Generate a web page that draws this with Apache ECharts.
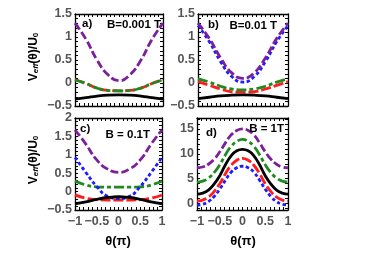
<!DOCTYPE html>
<html><head><meta charset="utf-8">
<script src="https://cdn.jsdelivr.net/npm/echarts@6/dist/echarts.min.js"></script>
<style>html,body{margin:0;padding:0;background:#fff}#c{width:388px;height:260px}</style>
</head><body><div id="c"></div>
<script>
// ---- data ----
const theta9 = [-1, -0.75, -0.5, -0.25, 0, 0.25, 0.5, 0.75, 1];
const theta17 = [-1, -0.875, -0.75, -0.625, -0.5, -0.375, -0.25, -0.125, 0, 0.125, 0.25, 0.375, 0.5, 0.625, 0.75, 0.875, 1];

// panel a) B=0.001 T
const aPurple = [1.30, 0.95, 0.50, 0.18, 0.05, 0.18, 0.50, 0.95, 1.30];
const aGreen  = [0.07, -0.01, -0.11, -0.16, -0.17, -0.16, -0.11, -0.01, 0.07];
const aRed    = [0.07, -0.01, -0.11, -0.16, -0.17, -0.16, -0.11, -0.01, 0.07];
const aBlack  = [-0.35, -0.32, -0.285, -0.265, -0.26, -0.265, -0.285, -0.32, -0.35];

// panel b) B=0.01 T
const bPurple = [1.30, 0.97, 0.55, 0.22, 0.10, 0.22, 0.55, 0.97, 1.30];
const bBlue   = [1.25, 0.90, 0.47, 0.14, 0.02, 0.14, 0.47, 0.90, 1.25];
const bGreen  = [0.09, 0.02, -0.07, -0.13, -0.15, -0.13, -0.07, 0.02, 0.09];
const bRed    = [0.03, -0.05, -0.13, -0.19, -0.20, -0.19, -0.13, -0.05, 0.03];
const bBlack  = [-0.34, -0.31, -0.28, -0.265, -0.26, -0.265, -0.28, -0.31, -0.34];

// panel c) B = 0.1T
const cPurple = [1.68, 1.29, 0.86, 0.61, 0.52, 0.61, 0.86, 1.29, 1.68];
const cBlue   = [0.93, 0.52, 0.14, -0.13, -0.19, -0.13, 0.14, 0.52, 0.93];
const cGreen  = [0.29, 0.18, 0.13, 0.12, 0.12, 0.12, 0.13, 0.18, 0.29];
const cRed    = [-0.09, -0.18, -0.22, -0.23, -0.23, -0.23, -0.22, -0.18, -0.09];
const cBlack  = [-0.33, -0.28, -0.21, -0.16, -0.14, -0.16, -0.21, -0.28, -0.33];

// panel d) B = 1T
const dPurple = [7.2, 7.35, 7.9, 8.9, 10.4, 12.2, 13.8, 14.7, 15.0, 14.7, 13.8, 12.2, 10.4, 8.9, 7.9, 7.35, 7.2];
const dGreen  = [4.3, 4.5, 5.1, 6.2, 7.8, 9.8, 11.5, 12.5, 12.9, 12.5, 11.5, 9.8, 7.8, 6.2, 5.1, 4.5, 4.3];
const dBlack  = [1.9, 2.1, 2.7, 3.9, 5.6, 7.8, 9.6, 10.6, 10.9, 10.6, 9.6, 7.8, 5.6, 3.9, 2.7, 2.1, 1.9];
const dRed    = [0.5, 0.7, 1.3, 2.4, 4.0, 6.0, 7.7, 8.7, 9.1, 8.7, 7.7, 6.0, 4.0, 2.4, 1.3, 0.7, 0.5];
const dBlue   = [-0.3, -0.15, 0.4, 1.4, 2.9, 4.7, 6.3, 7.2, 7.5, 7.2, 6.3, 4.7, 2.9, 1.4, 0.4, -0.15, -0.3];

const xTickLabels = [-1, -0.5, 0, 0.5, 1];
const yTickLabelsAB = [-0.5, 0, 0.5, 1, 1.5];
const yTickLabelsC = [-0.5, 0, 0.5, 1, 1.5, 2];
const yTickLabelsD = [0, 5, 10, 15];

const panelLetters = ['a)', 'b)', 'c)', 'd)'];
const panelFields = ['B=0.001 T', 'B=0.01 T', 'B = 0.1T', 'B = 1T'];

// ---- styles ----
const FONT = '"Liberation Sans", Arial, sans-serif';
const C = {purple: '#7d1f9c', blue: '#1c1cff', green: '#1f8a1f', red: '#ff1c1c', black: '#000000'};
const DASH = {purple: [8, 3], blue: [3.5, 2.5], green: [10, 3, 4, 3], red: [10, 3], black: 'solid'};
const LW = 2.8;

const grids = [
  {left: 75, top: 14, width: 88, height: 92},
  {left: 198, top: 14, width: 90, height: 92},
  {left: 75, top: 118, width: 87, height: 92},
  {left: 197, top: 118, width: 91, height: 92}
];
const yRanges = [[-0.5, 1.5, 0.1], [-0.5, 1.5, 0.1], [-0.5, 2, 0.1], [-1.3, 17.2, 1]];
const yLabelSets = [yTickLabelsAB, yTickLabelsAB, yTickLabelsC, yTickLabelsD];

function range(a, b, s) {
  const out = [];
  const n = Math.round((b - a) / s);
  for (let i = 0; i <= n; i++) out.push(Math.round((a + i * s) * 1000) / 1000);
  return out;
}
const fmt = v => String(v).replace('-', '\u2212');
const labelStyle = {color: '#555', fontSize: 12.5, fontWeight: 'bold', fontFamily: FONT};

const xAxis = [], yAxis = [];
grids.forEach((g, gi) => {
  const xt = range(-1, 1, 0.1);
  ['bottom', 'top'].forEach(pos => {
    xAxis.push({
      type: 'value', gridIndex: gi, position: pos, min: -1, max: 1,
      axisLine: {onZero: false, lineStyle: {color: '#000', width: 1.3}},
      axisTick: {inside: true, length: 3, customValues: xt, lineStyle: {color: '#000', width: 1}},
      axisLabel: Object.assign({show: pos === 'bottom' && gi >= 2, customValues: xTickLabels, formatter: fmt, margin: 5}, labelStyle),
      splitLine: {show: false}
    });
  });
  const yr = yRanges[gi];
  const tickStart = gi === 3 ? -1 : yr[0];
  const tickEnd = gi === 3 ? 17 : yr[1];
  const yt = range(tickStart, tickEnd, yr[2]);
  ['left', 'right'].forEach(pos => {
    yAxis.push({
      type: 'value', gridIndex: gi, position: pos, min: yr[0], max: yr[1],
      axisLine: {onZero: false, lineStyle: {color: '#000', width: 1.3}},
      axisTick: {inside: true, length: 3, customValues: yt, lineStyle: {color: '#000', width: 1}},
      axisLabel: Object.assign({show: pos === 'left', customValues: yLabelSets[gi], formatter: fmt, margin: 3}, labelStyle),
      splitLine: {show: false}
    });
  });
});

function line(gi, xs, ys, key) {
  return {
    type: 'line', xAxisIndex: gi * 2, yAxisIndex: gi * 2,
    data: xs.map((x, i) => [x, ys[i]]),
    smooth: 0.5, symbol: 'none', silent: true, clip: true,
    lineStyle: {color: C[key], width: LW, type: DASH[key], cap: 'butt'}
  };
}

const series = [
  line(0, theta9, aRed, 'red'), line(0, theta9, aGreen, 'green'), line(0, theta9, aPurple, 'purple'), line(0, theta9, aBlack, 'black'),
  line(1, theta9, bRed, 'red'), line(1, theta9, bGreen, 'green'), line(1, theta9, bBlue, 'blue'), line(1, theta9, bPurple, 'purple'), line(1, theta9, bBlack, 'black'),
  line(2, theta9, cRed, 'red'), line(2, theta9, cGreen, 'green'), line(2, theta9, cBlue, 'blue'), line(2, theta9, cPurple, 'purple'), line(2, theta9, cBlack, 'black'),
  line(3, theta17, dBlue, 'blue'), line(3, theta17, dRed, 'red'), line(3, theta17, dBlack, 'black'), line(3, theta17, dGreen, 'green'), line(3, theta17, dPurple, 'purple')
];

const txt = (x, y, s, size, align) => ({
  type: 'text', x: x, y: y, z: 100,
  style: {text: s, fill: '#000', font: 'bold ' + size + 'px ' + FONT, align: align || 'left', verticalAlign: 'middle'}
});
const yName = (x, y) => ({
  type: 'text', x: x, y: y, rotation: Math.PI / 2, z: 100,
  style: {
    text: '{v|V}{s|eff}{v|(θ)/U}{z|0}', align: 'center', verticalAlign: 'middle',
    rich: {
      v: {fontSize: 12, fontWeight: 'bold', fontFamily: FONT, fill: '#000', lineHeight: 14, verticalAlign: 'bottom'},
      s: {fontSize: 8, fontWeight: 'bold', fontStyle: 'italic', fontFamily: FONT, fill: '#000', lineHeight: 14, verticalAlign: 'bottom'},
      z: {fontSize: 8, fontWeight: 'bold', fontFamily: FONT, fill: '#000', lineHeight: 14, verticalAlign: 'bottom'}
    }
  }
});

const graphic = [
  txt(82, 24, panelLetters[0], 11.5), txt(161, 25, panelFields[0], 11.5, 'right'),
  txt(208, 25, panelLetters[1], 11.5), txt(277, 26, panelFields[1], 11.5, 'right'),
  txt(80, 129, panelLetters[2], 11.5), txt(150, 135, panelFields[2], 11.5, 'right'),
  txt(206, 133, panelLetters[3], 11.5), txt(284, 129, panelFields[3], 11.5, 'right'),
  txt(118, 241, 'θ(π)', 13, 'center'), txt(243, 241, 'θ(π)', 13, 'center'),
  yName(33, 57), yName(33, 160)
];

const chart = echarts.init(document.getElementById('c'), null, {renderer: 'canvas'});
chart.setOption({animation: false, grid: grids, xAxis: xAxis, yAxis: yAxis, series: series, graphic: graphic});
</script></body></html>
